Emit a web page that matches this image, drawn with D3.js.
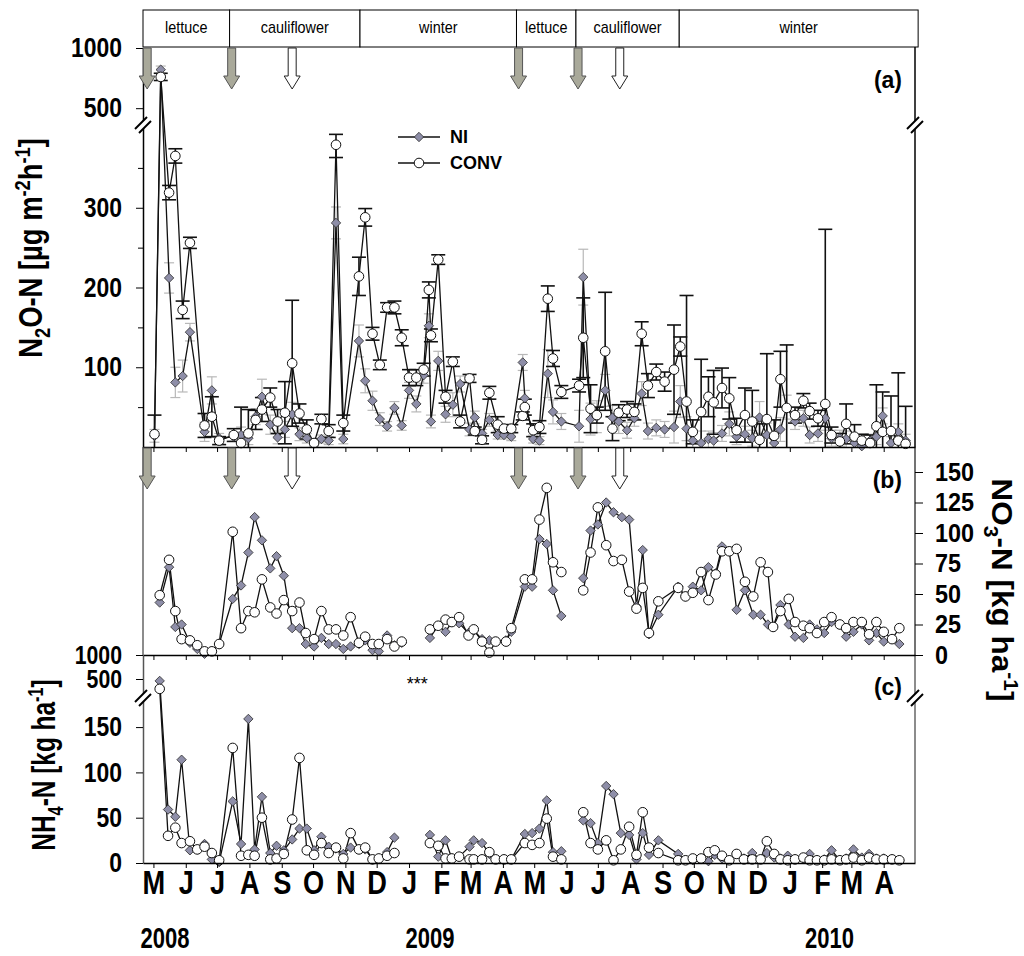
<!DOCTYPE html>
<html>
<head>
<meta charset="utf-8">
<script src="https://cdn.jsdelivr.net/npm/d3@7"></script>
<style>
  body { margin: 0; background: #fff; }
  text { font-family: "Liberation Sans", Arial, sans-serif; }
</style>
</head>
<body>
<svg id="chart" width="1024" height="956"></svg>
<script>
// ---------- data (days counted from 1 May 2008) ----------
const cropName  = ["lettuce", "cauliflower", "winter", "lettuce", "cauliflower", "winter"];
const cropStart = [-10, 73, 198, 348, 405, 504];
const cropEnd   = [73, 198, 348, 405, 504, 733];

const grayArrowDay  = [-6, 75, 350, 407];   // filled arrows
const whiteArrowDay = [133, 447];           // open arrows

// N2O-N flux [µg m-2 h-1]
const n2oDay = [1,7,15,21,28,35,49,56,63,77,
  84,91,98,104,112,119,126,133,140,147,
  154,161,168,175,182,197,203,210,217,224,
  231,238,245,252,259,264,266,273,280,287,
  294,303,308,315,322,330,336,343,354,356,
  364,370,378,383,391,408,412,419,425,433,
  440,446,454,461,468,474,482,490,499,505,
  511,517,525,532,537,545,552,559,567,574,
  581,588,595,601,607,615,623,629,637,644,
  650,658,664,672,679,687,693,699,707,714,
  721];
const n2oNI = [14,820,212,81,89,144,19,71,11,13,
  15,11,38,63,28,12,22,41,16,11,
  5,10,8,281,10,133,83,58,35,26,
  49,27,71,54,90,152,32,108,41,53,
  79,22,37,17,34,15,15,13,106,61,
  10,8,92,44,32,26,213,35,38,71,
  37,32,21,36,67,20,24,22,25,57,
  23,8,5,10,8,17,29,13,16,11,
  37,15,5,22,50,32,36,15,17,36,
  11,11,10,5,1,8,13,39,5,19,
  8];
const n2oCONV = [16,760,319,365,172,256,27,38,8,15,
  5,17,34,47,62,32,43,105,42,22,
  5,35,20,379,30,214,288,142,103,175,
  175,137,87,87,97,197,140,235,63,107,
  32,86,20,9,68,28,23,23,39,50,
  21,25,186,111,69,77,137,48,40,120,
  23,43,47,44,142,77,94,82,97,126,
  57,19,44,63,56,74,61,21,40,32,
  9,35,14,85,49,40,58,45,36,54,
  15,7,29,13,8,5,26,19,20,8,
  4];
const n2oCONVerr = [24,30,9,9,11,7,15,25,5,8,
  45,30,12,15,12,15,39,79,12,12,
  5,6,8,16,10,24,11,8,6,6,
  8,10,10,10,8,10,8,6,8,6,
  8,5,5,5,8,10,5,5,5,10,
  8,8,16,10,8,8,50,30,10,74,
  15,10,10,10,15,15,10,12,56,12,
  133,15,66,25,40,25,26,15,34,39,
  20,82,20,35,79,10,9,10,10,219,
  10,10,25,15,8,10,52,50,44,85,
  47];
const n2oNIerr = [8,30,19,19,20,11,12,17,6,6,
  10,8,10,22,12,8,10,15,8,6,
  4,5,5,20,6,20,15,12,8,6,
  8,6,10,10,10,15,8,12,10,15,
  10,8,8,5,8,5,5,5,10,10,
  5,5,30,15,10,20,35,20,20,20,
  15,15,10,10,15,10,10,10,20,20,
  15,10,15,10,10,10,15,10,10,10,
  20,15,10,15,15,10,10,10,10,15,
  10,10,10,8,5,8,10,10,8,10,
  8];

// NO3-N [kg ha-1]  (null = no sampling)
const no3Day = [6,15,21,27,35,42,49,56,63,76,
  84,91,97,104,112,118,125,133,140,146,
  154,161,168,175,182,189,197,203,210,216,
  224,231,238,250,
  265,273,280,286,293,302,307,315,322,328,
  338,343,356,363,370,377,383,391,400,
  412,419,426,434,441,449,456,463,469,475,
  484,503,510,517,525,532,539,545,552,559,
  567,575,582,589,594,601,609,615,623,629,
  636,643,650,658,664,671,679,686,693,700,
  708,715];
const no3NI = [43,72,23,25,10,5,1,3,9,46,
  57,84,113,94,71,81,65,22,22,9,
  7,14,9,9,5,7,9,12,4,3,
  16,8,10,null,
  14,24,19,27,26,18,20,13,12,11,
  12,19,56,56,95,91,53,32,null,
  63,102,107,125,117,113,111,40,86,17,
  33,56,48,56,53,72,67,89,85,37,
  53,33,33,25,23,41,25,15,14,25,
  21,18,27,25,15,19,25,12,18,11,
  13,9];
const no3CONV = [49,78,36,13,12,8,3,3,9,101,
  22,36,35,62,39,34,45,36,43,18,
  13,36,21,21,16,31,10,15,9,9,
  13,7,11,null,
  21,24,29,27,31,16,21,11,2,11,
  11,22,62,62,111,137,76,68,null,
  53,84,121,90,77,78,52,38,55,18,
  44,55,48,51,68,45,66,85,85,87,
  60,48,76,68,23,36,46,27,24,22,
  18,27,31,25,22,27,27,17,27,19,
  13,22];

// NH4-N [kg ha-1]
const nh4Day = [6,14,21,27,35,42,49,56,63,76,
  84,91,97,104,112,118,125,133,140,147,
  154,161,168,175,182,189,197,203,210,216,
  224,231,250,
  265,273,280,286,293,303,307,315,322,328,
  336,343,356,363,370,377,383,391,400,
  412,419,426,434,441,448,456,463,469,475,
  484,503,510,517,525,532,538,545,552,559,
  566,574,582,588,595,601,608,615,623,629,
  636,643,650,658,664,671,679,686,693,700,
  708,715];
const nh4NI = [460,59,51,114,14,15,21,4,1,68,
  21,159,15,73,11,19,14,26,38,38,
  14,29,18,16,10,17,15,15,4,5,
  12,28,null,
  31,7,25,5,7,18,25,22,10,4,
  4,4,32,33,38,69,12,13,null,
  47,44,22,85,76,33,31,4,33,9,
  25,10,3,3,4,2,9,5,3,10,
  5,11,4,11,6,5,8,4,5,10,
  3,4,14,3,5,15,6,10,5,5,
  4,3];
const nh4CONV = [360,30,39,22,24,15,18,11,3,127,
  8,9,8,50,4,5,10,48,116,14,
  9,22,11,17,5,33,15,17,4,5,
  8,11,null,
  22,19,5,5,7,4,4,4,12,4,
  4,4,22,20,22,49,7,4,null,
  56,22,15,25,3,15,40,9,56,17,
  11,3,3,5,5,12,14,8,3,10,
  4,4,4,24,10,4,3,4,6,3,
  3,3,4,3,4,6,3,6,4,4,
  4,3];

const n2oTicks = [100, 200, 300, 500, 1000];
const n2oMinor = [50, 150, 250, 350];
const no3Ticks = [0, 25, 50, 75, 100, 125, 150];
const nh4Ticks = [0, 50, 100, 150, 500, 1000];
const yearLabel = ["2008", "2009", "2010"];
const yearDay = [11, 265, 648];

// ---------- scales ----------
const svg = d3.select("#chart");
const origin = new Date(2008, 4, 1);
const day = d => d3.timeDay.offset(origin, d);

const x = d3.scaleTime()
    .domain([new Date(2008, 3, 21), new Date(2010, 4, 1)])
    .range([143, 915]);
const yA = d3.scaleLinear().domain([0, 390, 460, 1000]).range([447, 136, 113, 48]);
const yB = d3.scaleLinear().domain([0, 150]).range([655, 472]);
const yC = d3.scaleLinear().domain([0, 165, 400, 1000]).range([863, 713.5, 683.8, 655]);

const months = d3.timeMonth.range(new Date(2008, 4, 1), new Date(2010, 4, 1));
const diamondFill = "#8e8ea8";
const plain = d3.format("d");

// ---------- crop strip ----------
cropName.forEach(function(name, i) {
    let x0 = x(day(cropStart[i])), x1 = x(day(cropEnd[i]));
    svg.append("rect")
        .attr("x", x0).attr("y", 10)
        .attr("width", x1 - x0).attr("height", 37)
        .attr("fill", "#fff").attr("stroke", "#000").attr("stroke-width", 1);
    svg.append("text")
        .attr("transform", `translate(${(x0 + x1) / 2},33) scale(0.9,1)`)
        .attr("text-anchor", "middle")
        .style("font-size", "16px")
        .text(name);
});

// ---------- helpers ----------
function styleTicks(g, size, sx, xpos) {
    g.selectAll(".tick text")
        .style("font-size", size + "px")
        .style("font-weight", "bold")
        .attr("x", xpos / sx)
        .attr("transform", `scale(${sx},1)`);
}

function breakMark(cx, cy) {
    let g = svg.append("g").attr("transform", `translate(${cx},${cy})`);
    g.append("path").attr("d", "M-8,4 L4,-8 L8,-4 L-4,8 Z").attr("fill", "#fff");
    g.append("line").attr("x1", -8).attr("y1", 4).attr("x2", 4).attr("y2", -8)
        .attr("stroke", "#000").attr("stroke-width", 2);
    g.append("line").attr("x1", -4).attr("y1", 8).attr("x2", 8).attr("y2", -4)
        .attr("stroke", "#000").attr("stroke-width", 2);
}

function arrow(cx, top, fill) {
    let p = `M${cx - 4},${top} L${cx + 4},${top} L${cx + 4},${top + 28} L${cx + 8},${top + 28}
             L${cx},${top + 41} L${cx - 8},${top + 28} L${cx - 4},${top + 28} Z`;
    svg.append("path").attr("d", p)
        .attr("fill", fill).attr("stroke", fill == "#fff" ? "#222" : "#555").attr("stroke-width", 1);
}

function errorBars(days, vals, errs, y, color, width, cap) {
    let g = svg.append("g").attr("stroke", color).attr("stroke-width", width);
    days.forEach(function(d, i) {
        let v = vals[i], e = errs[i];
        if (v == null || !e) return;
        let cx = x(day(d)), top = y(v + e), lo = Math.max(0, v - e), bot = y(lo);
        g.append("line").attr("x1", cx).attr("x2", cx).attr("y1", bot).attr("y2", top);
        g.append("line").attr("x1", cx - cap).attr("x2", cx + cap).attr("y1", top).attr("y2", top);
        if (lo > 0) g.append("line").attr("x1", cx - cap).attr("x2", cx + cap).attr("y1", bot).attr("y2", bot);
    });
}

function pts(days, vals) {
    return days.map((d, i) => ({ x: x(day(d)), v: vals[i] }));
}

function drawPair(days, ni, conv, y) {
    let line = d3.line().defined(p => p.v != null).x(p => p.x).y(p => y(p.v));
    let a = pts(days, ni), b = pts(days, conv);
    svg.append("path").attr("d", line(a)).attr("fill", "none").attr("stroke", "#111").attr("stroke-width", 1.3);
    svg.append("path").attr("d", line(b)).attr("fill", "none").attr("stroke", "#111").attr("stroke-width", 1.3);
    svg.append("g").selectAll("path")
        .data(a.filter(p => p.v != null))
        .enter().append("path")
        .attr("d", d3.symbol(d3.symbolSquare, 44)())
        .attr("transform", p => `translate(${p.x},${y(p.v)}) rotate(45)`)
        .attr("fill", diamondFill).attr("stroke", "#333").attr("stroke-width", 0.8);
    svg.append("g").selectAll("circle")
        .data(b.filter(p => p.v != null))
        .enter().append("circle")
        .attr("cx", p => p.x).attr("cy", p => y(p.v)).attr("r", 4.8)
        .attr("fill", "#fff").attr("stroke", "#111").attr("stroke-width", 1);
}

// ---------- frames ----------
svg.append("line").attr("x1", 915).attr("x2", 915).attr("y1", 47).attr("y2", 447).attr("stroke", "#000").attr("stroke-width", 1.5);
svg.append("line").attr("x1", 143).attr("x2", 143).attr("y1", 447).attr("y2", 655).attr("stroke", "#666").attr("stroke-width", 1.5);
svg.append("line").attr("x1", 915).attr("x2", 915).attr("y1", 447).attr("y2", 655).attr("stroke", "#444").attr("stroke-width", 1.5);
svg.append("line").attr("x1", 915).attr("x2", 915).attr("y1", 655).attr("y2", 863).attr("stroke", "#666").attr("stroke-width", 1.5);

// ---------- panel (a) ----------
errorBars(n2oDay, n2oNI, n2oNIerr, yA, "#b8b8b8", 1.2, 5);
errorBars(n2oDay, n2oCONV, n2oCONVerr, yA, "#111", 1.6, 7);
drawPair(n2oDay, n2oNI, n2oCONV, yA);

let axA = svg.append("g").attr("transform", "translate(143,0)")
    .call(d3.axisLeft(yA).tickValues(n2oTicks).tickFormat(plain).tickSize(7).tickSizeOuter(0).tickPadding(14));
axA.select(".domain").attr("stroke-width", 1.5);
styleTicks(axA, 27, 0.85, -21);
svg.append("g").attr("transform", "translate(143,0)")
    .call(d3.axisLeft(yA).tickValues(n2oMinor).tickSize(5).tickFormat(""))
    .select(".domain").remove();

// ---------- panel (b) ----------
drawPair(no3Day, no3NI, no3CONV, yB);
let axB = svg.append("g").attr("transform", "translate(915,0)")
    .call(d3.axisRight(yB).tickValues(no3Ticks).tickFormat(plain).tickSize(8).tickSizeOuter(0).tickPadding(12));
axB.select(".domain").remove();
styleTicks(axB, 26, 0.9, 20);

// ---------- panel (c) ----------
drawPair(nh4Day, nh4NI, nh4CONV, yC);
let axC = svg.append("g").attr("transform", "translate(143,0)")
    .call(d3.axisLeft(yC).tickValues(nh4Ticks).tickFormat(plain).tickSize(7).tickSizeOuter(0).tickPadding(14));
axC.select(".domain").attr("stroke", "#555").attr("stroke-width", 1.5);
styleTicks(axC, 27, 0.85, -21);
axC.selectAll(".tick text").filter(d => d >= 500).style("font-size", "25px");

// ---------- time axes ----------
[447, 655].forEach(function(yy) {
    svg.append("g").attr("transform", `translate(0,${yy})`)
        .call(d3.axisBottom(x).tickValues(months).tickSize(5).tickSizeOuter(0).tickFormat(""))
        .select(".domain").attr("stroke-width", 1.5);
});
let axX = svg.append("g").attr("transform", "translate(0,863)")
    .call(d3.axisBottom(x).tickValues(months).tickSize(5).tickSizeOuter(0).tickPadding(2)
        .tickFormat(d => d3.timeFormat("%b")(d)[0]));
axX.select(".domain").attr("stroke-width", 1.5);
axX.selectAll(".tick text")
    .style("font-size", "34px").style("font-weight", "bold")
    .attr("transform", "scale(0.8,1)");

yearLabel.forEach(function(t, i) {
    svg.append("text")
        .attr("transform", `translate(${x(day(yearDay[i]))},948) scale(0.76,1)`)
        .attr("text-anchor", "middle")
        .style("font-size", "29px").style("font-weight", "bold")
        .text(t);
});

// ---------- axis breaks ----------
breakMark(143, 125);
breakMark(915, 125);
breakMark(143, 698);
breakMark(915, 698);

// ---------- arrows ----------
grayArrowDay.forEach(d => { arrow(x(day(d)), 48, "#a9a99a"); arrow(x(day(d)), 448, "#a9a99a"); });
whiteArrowDay.forEach(d => { arrow(x(day(d)), 48, "#fff"); arrow(x(day(d)), 448, "#fff"); });

// ---------- legend ----------
let leg = svg.append("g");
leg.append("line").attr("x1", 398).attr("x2", 440).attr("y1", 137).attr("y2", 137).attr("stroke", "#111").attr("stroke-width", 1.3);
leg.append("path").attr("d", d3.symbol(d3.symbolSquare, 44)())
    .attr("transform", "translate(419,137) rotate(45)")
    .attr("fill", diamondFill).attr("stroke", "#333").attr("stroke-width", 0.8);
leg.append("line").attr("x1", 398).attr("x2", 440).attr("y1", 163).attr("y2", 163).attr("stroke", "#111").attr("stroke-width", 1.3);
leg.append("circle").attr("cx", 419).attr("cy", 163).attr("r", 4.8)
    .attr("fill", "#fff").attr("stroke", "#111");
leg.append("text").attr("x", 450).attr("y", 143).style("font-size", "18px").style("font-weight", "bold").text("NI");
leg.append("text").attr("x", 450).attr("y", 169).style("font-size", "18px").style("font-weight", "bold").text("CONV");

// ---------- panel letters & note ----------
[["(a)", 88], ["(b)", 488], ["(c)", 695]].forEach(function(l) {
    svg.append("text").attr("x", 902).attr("y", l[1]).attr("text-anchor", "end")
        .style("font-size", "23px").style("font-weight", "bold").text(l[0]);
});
svg.append("text").attr("x", x(day(253))).attr("y", 690).attr("text-anchor", "middle")
    .style("font-size", "18px").text("***");

// ---------- axis titles ----------
function title(tx, ty, rot, sx, fs, parts) {
    let t = svg.append("text")
        .attr("transform", `translate(${tx},${ty}) rotate(${rot}) scale(${sx},1)`)
        .attr("text-anchor", "middle")
        .style("font-size", fs + "px").style("font-weight", "bold");
    let small = Math.round(fs * 0.66);
    parts.forEach(function(p) {
        let s = t.append("tspan").text(p[0]);
        if (p[1] == "sub") s.attr("dy", 8).style("font-size", small + "px");
        if (p[1] == "sup") s.attr("dy", -12).style("font-size", small + "px");
        if (p[1] == "back") s.attr("dy", p[2]);
    });
}
title(42, 248, -90, 0.83, 33, [["N"], ["2", "sub"], ["O-N [µg m", "back", -8], ["-2", "sup"], ["h", "back", 12], ["-1", "sup"], ["]", "back", 12]]);
title(55, 765, -90, 0.74, 33, [["NH"], ["4", "sub"], ["-N [kg ha", "back", -8], ["-1", "sup"], ["]", "back", 12]]);
title(992, 590, 90, 1.05, 30, [["NO"], ["3", "sub"], ["-N [kg ha", "back", -8], ["-1", "sup"], ["]", "back", 12]]);
</script>
</body>
</html>
